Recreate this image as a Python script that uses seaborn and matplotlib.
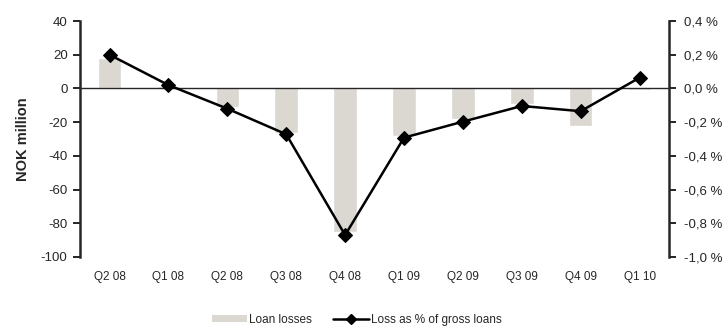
import numpy as np
import pandas as pd
import seaborn as sns
import matplotlib
matplotlib.use("Agg")
import matplotlib.pyplot as plt
from matplotlib.patches import Patch
from matplotlib.lines import Line2D
from matplotlib.ticker import FuncFormatter

quarters = ["Q2 08", "Q1 08", "Q2 08 ", "Q3 08", "Q4 08", "Q1 09", "Q2 09", "Q3 09", "Q4 09", "Q1 10"]
loan_losses = [18, 1.5, -11, -26.5, -85, -28.5, -18, -9.5, -22, -1]
loss_pct = [0.20, 0.02, -0.12, -0.272, -0.87, -0.292, -0.197, -0.104, -0.135, 0.064]

sns.set_style("white")
plt.rcParams["font.family"] = ["Liberation Sans", "DejaVu Sans"]
plt.rcParams["axes.unicode_minus"] = False

bar_color = "#dbd8d2"

df = pd.DataFrame({"quarter": quarters, "losses": loan_losses})

fig = plt.figure(figsize=(7.28, 3.29), dpi=100)
ax = fig.add_axes([0.110, 0.219, 0.809, 0.717])

sns.barplot(data=df, x="quarter", y="losses", color=bar_color, width=0.4,
            saturation=1, ax=ax, zorder=1)
ax.set_xlim(-0.5, len(quarters) - 0.5)
ax.set_ylim(-100, 40)
ax.set_yticks(range(-100, 41, 20))
ax.set_xlabel("")
ax.set_ylabel("NOK million", fontsize=10.5, fontweight="bold", labelpad=8)

# category axis runs along zero, labels sit below the plot
ax.spines["bottom"].set_position(("data", 0))
ax.spines["bottom"].set_linewidth(1.0)
ax.spines["top"].set_visible(False)
ax.spines["right"].set_visible(False)
ax.spines["left"].set_linewidth(1.8)
ax.set_xticks(np.arange(len(quarters)))
ax.set_xticklabels([])
ax.tick_params(axis="x", which="major", length=0)
ax.set_xticks(np.arange(0.5, len(quarters) - 0.5, 1.0), minor=True)
ax.tick_params(axis="x", which="minor", length=4, width=1.0, direction="inout", color="black")
ax.tick_params(axis="y", length=5, width=1.2, direction="out", labelsize=9.5, left=True,
               color="black", pad=4)
for i, q in enumerate(quarters):
    ax.text(i, -0.085, q.strip(), transform=ax.get_xaxis_transform(),
            ha="center", va="center", fontsize=8.5)

ax2 = ax.twinx()
sns.lineplot(x=np.arange(len(quarters)), y=loss_pct, ax=ax2, color="black",
             linewidth=1.8, marker="D", markersize=7.5, markeredgecolor="black")
ax2.set_ylim(-1.0, 0.4)
ax2.set_yticks(np.round(np.arange(-1.0, 0.41, 0.2), 1))


def pct_label(v, pos):
    v = round(v, 1)
    if v == 0:
        v = 0.0
    return f"{v:.1f} %".replace(".", ",").replace("-0,0", "0,0")


ax2.yaxis.set_major_formatter(FuncFormatter(pct_label))
ax2.tick_params(axis="y", length=5, width=1.2, direction="out", labelsize=9.5, right=True,
                color="black", pad=6)
for s in ["top", "left", "bottom"]:
    ax2.spines[s].set_visible(False)
ax2.spines["right"].set_linewidth(1.8)

handles = [Patch(facecolor=bar_color, edgecolor="none"),
           Line2D([0], [0], color="black", linewidth=1.8, marker="D", markersize=5)]
fig.legend(handles, ["Loan losses", "Loss as % of gross loans"], loc="center",
           bbox_to_anchor=(0.49, 0.028), ncol=2, frameon=False, fontsize=8.5,
           handlelength=3.0, handletextpad=0.2, columnspacing=1.8, handleheight=0.6)

fig.savefig("out.png", dpi=100)
